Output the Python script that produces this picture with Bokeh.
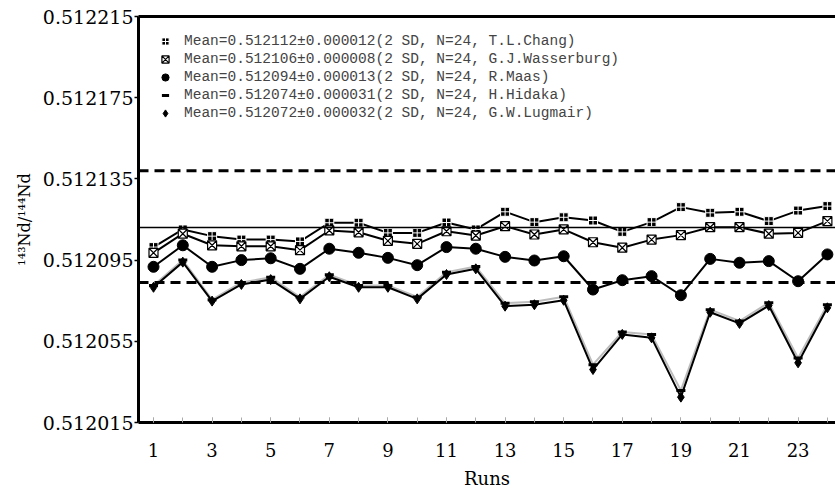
from bokeh.plotting import figure
from bokeh.models import (Span, FixedTicker, LinearAxis, Legend, LegendItem,
                          PrintfTickFormatter, Range1d)
from bokeh.embed import file_html
from bokeh.resources import INLINE

# ---------------- data ----------------
runs = list(range(1, 25))

chang = [0.5121014, 0.5121101, 0.5121068, 0.5121051, 0.5121051, 0.5121042,
         0.5121134, 0.5121134, 0.5121084, 0.5121084, 0.5121135, 0.5121101,
         0.5121188, 0.5121137, 0.5121161, 0.5121145, 0.5121089, 0.5121137,
         0.5121211, 0.5121183, 0.5121188, 0.5121142, 0.5121194, 0.5121216]

wasserburg = [0.5120986, 0.5121080, 0.5121023, 0.5121018, 0.5121018, 0.5120999,
              0.5121096, 0.5121087, 0.5121045, 0.5121030, 0.5121092, 0.5121071,
              0.5121117, 0.5121076, 0.5121101, 0.5121038, 0.5121011, 0.5121051,
              0.5121073, 0.5121112, 0.5121112, 0.5121080, 0.5121084, 0.5121142]

maas = [0.5120917, 0.5121023, 0.5120917, 0.5120950, 0.5120959, 0.5120907,
        0.5121006, 0.5120986, 0.5120961, 0.5120925, 0.5121014, 0.5121006,
        0.5120966, 0.5120948, 0.5120969, 0.5120805, 0.5120851, 0.5120871,
        0.5120777, 0.5120956, 0.5120937, 0.5120945, 0.5120846, 0.5120978]

hidaka = [0.5120825, 0.5120950, 0.5120755, 0.5120840, 0.5120865, 0.5120768,
          0.5120878, 0.5120825, 0.5120825, 0.5120768, 0.5120890, 0.5120918,
          0.5120738, 0.5120745, 0.5120770, 0.5120435, 0.5120596, 0.5120583,
          0.5120308, 0.5120706, 0.5120650, 0.5120740, 0.5120468, 0.5120730]

lugmair = [0.5120816, 0.5120940, 0.5120748, 0.5120830, 0.5120854, 0.5120759,
           0.5120868, 0.5120816, 0.5120816, 0.5120759, 0.5120879, 0.5120907,
           0.5120723, 0.5120730, 0.5120752, 0.5120411, 0.5120584, 0.5120567,
           0.5120275, 0.5120693, 0.5120638, 0.5120726, 0.5120444, 0.5120715]

labels = [
    "Mean=0.512112\u00b10.000012(2 SD, N=24, T.L.Chang)",
    "Mean=0.512106\u00b10.000008(2 SD, N=24, G.J.Wasserburg)",
    "Mean=0.512094\u00b10.000013(2 SD, N=24, R.Maas)",
    "Mean=0.512074\u00b10.000031(2 SD, N=24, H.Hidaka)",
    "Mean=0.512072\u00b10.000032(2 SD, N=24, G.W.Lugmair)",
]

ref_mean = 0.512111
ref_upper = 0.512139
ref_lower = 0.512084

y_ticks = [0.512015, 0.512055, 0.512095, 0.512135, 0.512175, 0.512215]
x_major = [1, 3, 5, 7, 9, 11, 13, 15, 17, 19, 21, 23]
x_minor = runs

# ---------------- figure ----------------
SERIF = "DejaVu Serif"

p = figure(width=835, height=494, output_backend="svg", toolbar_location=None,
           x_range=Range1d(0.488, 24.277), y_range=Range1d(0.512015, 0.512215),
           min_border_left=138, min_border_right=0, min_border_top=16,
           min_border_bottom=72)
p.outline_line_color = None
p.xgrid.visible = False
p.ygrid.visible = False
p.background_fill_color = "white"

# reference lines
p.add_layout(Span(location=ref_mean, dimension="width", line_color="black",
                  line_width=1.5))
for loc in (ref_upper, ref_lower):
    p.add_layout(Span(location=loc, dimension="width", line_color="black",
                      line_width=3, line_dash="10 6"))

# series
r_chang_l = p.line(runs, chang, line_color="black", line_width=2)
r_chang = p.scatter(runs, chang, marker="square_cross", size=9,
                    fill_color="black", line_color="white", line_width=1)

r_wass_l = p.line(runs, wasserburg, line_color="black", line_width=2)
r_wass = p.scatter(runs, wasserburg, marker="square_x", size=9,
                   fill_color="white", line_color="black", line_width=1.2)

r_maas_l = p.line(runs, maas, line_color="black", line_width=2)
r_maas = p.scatter(runs, maas, marker="circle", size=11,
                   fill_color="black", line_color="black")

r_hid_l = p.line(runs, hidaka, line_color="#bdbdbd", line_width=2)
r_lug_l = p.line(runs, lugmair, line_color="black", line_width=2)
r_hid = p.scatter(runs, hidaka, marker="dash", size=9,
                  line_color="black", line_width=3)
r_lug = p.scatter(runs, lugmair, marker="diamond", size=10,
                  fill_color="black", line_color="black")

# axes
xa = p.xaxis[0]
xa.ticker = FixedTicker(ticks=x_major, minor_ticks=x_minor)
xa.axis_line_width = 3
xa.axis_line_color = "black"
xa.major_tick_in = 5
xa.major_tick_out = 0
xa.minor_tick_in = 5
xa.minor_tick_out = 0
xa.major_tick_line_color = "#aaaaaa"
xa.minor_tick_line_color = "#aaaaaa"
xa.major_label_standoff = 20
xa.major_label_text_font = SERIF
xa.major_label_text_font_size = "18px"
xa.major_label_text_color = "black"
xa.axis_label = "Runs"
xa.axis_label_text_font = SERIF
xa.axis_label_text_font_size = "18px"
xa.axis_label_text_font_style = "normal"
xa.axis_label_text_color = "black"
xa.axis_label_standoff = 8

ya = p.yaxis[0]
ya.ticker = FixedTicker(ticks=y_ticks, minor_ticks=[])
ya.formatter = PrintfTickFormatter(format="%.6f")
ya.axis_line_width = 3
ya.axis_line_color = "black"
ya.major_tick_in = 0
ya.major_tick_out = 4
ya.major_tick_line_width = 1.5
ya.major_label_standoff = 1
ya.major_label_text_font = SERIF
ya.major_label_text_font_size = "19px"
ya.major_label_text_color = "black"
ya.axis_label = "\u00b9\u2074\u00b3Nd/\u00b9\u2074\u2074Nd"
ya.axis_label_text_font = SERIF
ya.axis_label_text_font_size = "16px"
ya.axis_label_text_font_style = "normal"
ya.axis_label_text_color = "black"
ya.axis_label_standoff = 6

top = LinearAxis(ticker=FixedTicker(ticks=[]), axis_line_width=3,
                 axis_line_color="black", major_tick_in=0, major_tick_out=0,
                 minor_tick_in=0, minor_tick_out=0, major_label_standoff=0)
p.add_layout(top, "above")

# legend
items = [LegendItem(label=labels[0], renderers=[r_chang]),
         LegendItem(label=labels[1], renderers=[r_wass]),
         LegendItem(label=labels[2], renderers=[r_maas]),
         LegendItem(label=labels[3], renderers=[r_hid]),
         LegendItem(label=labels[4], renderers=[r_lug])]
legend = Legend(items=items, location="top_left", margin=16, padding=8,
                glyph_width=22, glyph_height=18, label_height=16, spacing=0,
                label_standoff=8, label_text_font="Liberation Mono",
                label_text_font_size="14.5px", background_fill_alpha=0,
                border_line_color=None)
p.add_layout(legend)

open("out.html", "w").write(file_html(p, INLINE))
